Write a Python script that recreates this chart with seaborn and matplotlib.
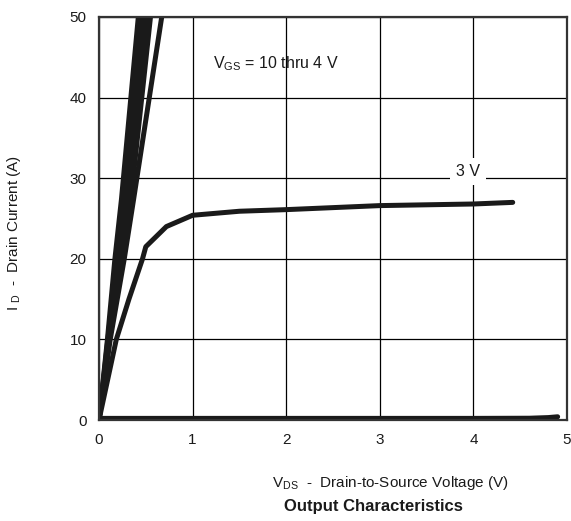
import numpy as np
import pandas as pd
import matplotlib
matplotlib.use("Agg")
import matplotlib.pyplot as plt
import seaborn as sns

# ---- data ----
# steep curves, VGS = 10 thru 4 V (drain-source voltage V, drain current A)
i_steep = [0.0, 10.0, 20.0, 27.4, 50.0, 55.0]
v_10 = [0.0, 0.09, 0.17, 0.24, 0.42, 0.46]
v_8 = [0.0, 0.095, 0.19, 0.265, 0.455, 0.50]
v_6 = [0.0, 0.10, 0.205, 0.29, 0.49, 0.535]
v_5 = [0.0, 0.105, 0.22, 0.31, 0.52, 0.565]
v_45 = [0.0, 0.11, 0.235, 0.34, 0.55, 0.60]
v_4 = [0.0, 0.12, 0.27, 0.37, 0.67, 0.735]
# VGS = 3 V
v_3 = [0.0, 0.185, 0.32, 0.465, 0.50, 0.72, 1.0, 1.5, 2.0, 3.0, 3.5, 4.0, 4.42]
i_3 = [0.0, 10.0, 15.0, 20.0, 21.5, 24.0, 25.4, 25.9, 26.1, 26.6, 26.7, 26.8, 27.0]
# lowest curve (near zero current)
v_low = [0.0, 1.0, 2.0, 3.0, 4.0, 4.6, 4.8, 4.9]
i_low = [0.2, 0.2, 0.2, 0.2, 0.2, 0.22, 0.3, 0.4]

x_ticks = [0, 1, 2, 3, 4, 5]
y_ticks = [0, 10, 20, 30, 40, 50]

curves = {
    "10 V": (v_10, i_steep), "8 V": (v_8, i_steep), "6 V": (v_6, i_steep),
    "5 V": (v_5, i_steep), "4.5 V": (v_45, i_steep), "4 V": (v_4, i_steep),
    "3 V": (v_3, i_3), "low": (v_low, i_low),
}
rows = []
for name, (vs, is_) in curves.items():
    for k, (v, i) in enumerate(zip(vs, is_)):
        rows.append({"curve": name, "V": v, "I": i, "order": k})
df = pd.DataFrame(rows)

sns.set_theme(style="white")
plt.rcParams["font.family"] = ["Liberation Sans", "DejaVu Sans"]
plt.rcParams["mathtext.fontset"] = "custom"
plt.rcParams["mathtext.rm"] = "Liberation Sans"
plt.rcParams["mathtext.it"] = "Liberation Sans"

fig = plt.figure(figsize=(5.71, 5.21), dpi=100)
ax = fig.add_axes([99 / 571, 1 - 420 / 521, 468 / 571, 403 / 521])

palette = {name: "#1a1a1a" for name in curves}
sns.lineplot(data=df, x="V", y="I", hue="curve", palette=palette, sort=False,
             estimator=None, linewidth=3.6, legend=False, ax=ax,
             solid_capstyle="round", solid_joinstyle="round")

ax.set_xlim(0, 5)
ax.set_ylim(0, 50)
ax.set_xticks(x_ticks)
ax.set_yticks(y_ticks)
ax.set_xticklabels([str(t) for t in x_ticks])
ax.set_yticklabels([str(t) for t in y_ticks])
ax.grid(True, color="black", linewidth=0.9)
ax.set_axisbelow(True)
for s in ax.spines.values():
    s.set_color("#333333")
    s.set_linewidth(1.6)
ax.tick_params(axis="both", length=0, labelsize=11, colors="#1a1a1a", pad=9)
ax.set_xlabel("")
ax.set_ylabel("")

ax.text(1.22, 44.2, r"V$_{\rm GS}$ = 10 thru 4 V", fontsize=11.5,
        ha="left", va="center", color="#1a1a1a")
ax.text(3.94, 30.8, "3 V", fontsize=11.5, ha="center", va="center",
        color="#1a1a1a",
        bbox=dict(facecolor="white", edgecolor="none", pad=4.5))

fig.text(390 / 571, 1 - 483 / 521,
         r"V$_{\rm DS}$  -  Drain-to-Source Voltage (V)", fontsize=11,
         ha="center", va="center", color="#1a1a1a")
fig.text(373 / 571, 1 - 507 / 521, "Output Characteristics", fontsize=12,
         fontweight="bold", ha="center", va="center", color="#1a1a1a")
fig.text(14 / 571, 1 - 233 / 521, r"I $_{\rm D}$  -  Drain Current (A)",
         fontsize=11, rotation=90, ha="center", va="center", color="#1a1a1a")

fig.savefig("out.png", dpi=100)
